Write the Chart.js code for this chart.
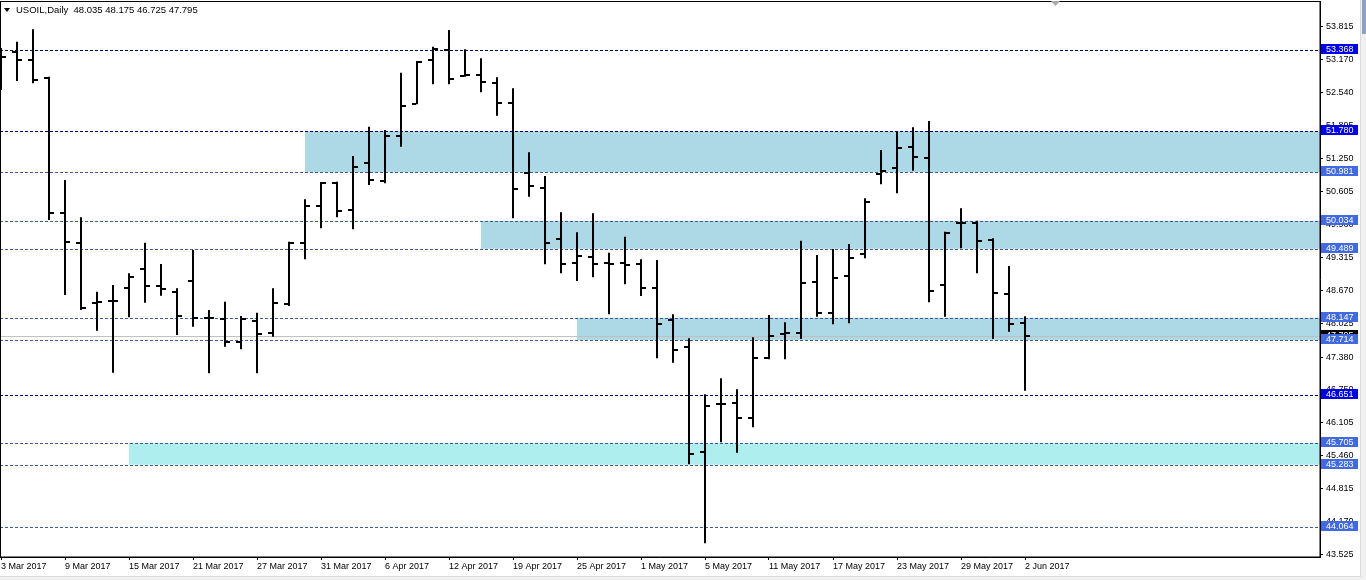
<!DOCTYPE html>
<html><head><meta charset="utf-8">
<script src="https://cdn.jsdelivr.net/npm/chart.js@4.4.0/dist/chart.umd.min.js"></script>
<style>html,body{margin:0;padding:0;background:#fff;overflow:hidden}#wrap{width:1366px;height:580px;position:relative}</style>
</head><body><div id="wrap"><canvas id="c"></canvas></div>
<script>
const symbol = 'USOIL,Daily';
const dates = ['3 Mar 2017','6 Mar 2017','7 Mar 2017','8 Mar 2017','9 Mar 2017','10 Mar 2017','13 Mar 2017','14 Mar 2017','15 Mar 2017','16 Mar 2017','17 Mar 2017','20 Mar 2017','21 Mar 2017','22 Mar 2017','23 Mar 2017','24 Mar 2017','27 Mar 2017','28 Mar 2017','29 Mar 2017','30 Mar 2017','31 Mar 2017',
'3 Apr 2017','4 Apr 2017','5 Apr 2017','6 Apr 2017','7 Apr 2017','10 Apr 2017','11 Apr 2017','12 Apr 2017','13 Apr 2017','17 Apr 2017','18 Apr 2017','19 Apr 2017','20 Apr 2017','21 Apr 2017','24 Apr 2017','25 Apr 2017','26 Apr 2017','27 Apr 2017','28 Apr 2017',
'1 May 2017','2 May 2017','3 May 2017','4 May 2017','5 May 2017','8 May 2017','9 May 2017','10 May 2017','11 May 2017','12 May 2017','15 May 2017','16 May 2017','17 May 2017','18 May 2017','19 May 2017','22 May 2017','23 May 2017','24 May 2017','25 May 2017','26 May 2017','29 May 2017','30 May 2017','31 May 2017','1 Jun 2017','2 Jun 2017'];
const opens  = [53.050,53.316,53.166,52.810,50.180,49.596,48.439,48.472,48.731,49.101,48.764,48.653,48.868,48.147,48.116,47.679,48.088,47.855,48.414,49.596,50.328,50.776,50.245,51.166,50.810,51.686,52.310,53.166,53.361,52.855,52.874,52.713,52.335,50.971,50.679,49.680,49.207,49.335,49.207,49.218,49.187,48.731,48.108,47.582,45.525,46.460,46.491,46.187,47.356,47.824,47.855,48.848,48.244,48.965,49.388,50.946,51.069,51.478,51.263,48.784,49.997,49.985,49.660,48.603,48.035];
const highs  = [53.400,53.523,53.764,52.841,50.829,50.102,48.653,48.784,49.012,49.608,49.193,48.720,49.466,48.297,48.459,48.180,48.244,48.720,49.627,50.453,50.790,50.796,51.296,51.867,51.803,52.919,53.147,53.425,53.751,53.375,53.199,52.829,52.615,51.369,50.907,50.200,49.810,50.180,49.413,49.725,49.284,49.271,48.215,47.746,46.655,46.967,46.752,47.765,48.199,48.057,49.647,49.368,49.485,49.582,50.473,51.413,51.770,51.856,51.978,49.822,50.278,50.036,49.693,49.154,48.175];
const lows   = [52.582,52.757,52.713,50.050,48.589,48.297,47.894,47.076,48.155,48.439,48.575,47.810,47.972,47.064,47.582,47.531,47.064,47.777,48.375,49.284,49.888,50.102,49.869,50.732,50.765,51.478,52.304,52.693,52.693,52.841,52.537,52.081,50.083,50.504,49.187,49.012,48.862,48.934,48.213,48.797,48.570,47.356,47.270,45.291,43.753,45.720,45.517,46.012,47.337,47.337,47.732,48.166,48.018,48.038,49.304,50.745,50.570,51.010,48.447,48.166,49.499,49.012,47.732,47.874,46.725];
const closes = [53.225,53.166,52.777,50.192,49.616,48.342,48.445,48.475,48.945,48.764,48.706,48.186,48.135,48.150,47.679,48.116,47.829,48.439,49.608,50.328,50.770,50.231,51.076,50.823,51.686,52.270,53.122,53.381,52.796,52.868,52.744,52.335,50.648,50.718,49.608,49.193,49.349,49.193,49.200,49.173,48.731,48.030,47.518,45.492,46.427,46.466,46.187,47.356,47.790,47.855,48.817,48.233,48.926,49.316,50.406,51.010,51.458,51.283,48.667,49.791,49.985,49.647,48.634,48.024,47.795];
const yTickValues = [53.815,53.170,52.540,51.895,51.250,50.605,49.960,49.315,48.670,48.025,47.380,46.750,46.105,45.460,44.815,44.170,43.525];
const levelPrices = [53.368,51.780,50.981,50.034,49.489,48.147,47.714,46.651,45.705,45.283,44.064];
const levelStrong = [true,true,false,false,false,false,false,true,false,false,false];
const zoneLow   = [50.981,49.489,47.714,45.283];
const zoneHigh  = [51.780,50.034,48.147,45.705];
const zoneStart = ['30 Mar 2017','17 Apr 2017','25 Apr 2017','15 Mar 2017'];
const zoneColor = ['#ADD8E6','#ADD8E6','#ADD8E6','#AFEEEE'];

const FONT = "'Liberation Sans', Arial, sans-serif";
const N = dates.length;
const idx = dates.map((d,i)=>i);
const xTickIdx = idx.filter(i => i % 4 === 0);
const bid = closes[N-1];

function tickCanvas(side){
  const c = document.createElement('canvas'); c.width = 10; c.height = 2;
  const g = c.getContext('2d'); g.fillStyle = '#000';
  if (side === 'left') g.fillRect(0,0,4,2); else g.fillRect(6,0,4,2);
  return c;
}

const deco = {
  id: 'deco',
  beforeDraw(chart){
    const {ctx} = chart;
    ctx.save(); ctx.fillStyle = '#fff'; ctx.fillRect(0,0,chart.width,chart.height); ctx.restore();
  },
  beforeDatasetsDraw(chart){
    const {ctx, chartArea:a, scales:{x, y}} = chart;
    ctx.save();
    ctx.beginPath(); ctx.rect(a.left, a.top, a.width, a.height); ctx.clip();
    zoneLow.forEach((lo, k) => {
      const x0 = x.getPixelForValue(dates.indexOf(zoneStart[k]));
      const yt = y.getPixelForValue(zoneHigh[k]);
      const yb = y.getPixelForValue(lo);
      ctx.fillStyle = zoneColor[k];
      ctx.fillRect(x0, yt, a.right - x0, yb - yt);
    });
    const by = Math.round(y.getPixelForValue(bid)) + 0.5;
    ctx.strokeStyle = '#C0C0C0'; ctx.lineWidth = 1; ctx.setLineDash([]);
    ctx.beginPath(); ctx.moveTo(a.left, by); ctx.lineTo(a.right, by); ctx.stroke();
    levelPrices.forEach((p, k) => {
      const py = Math.round(y.getPixelForValue(p)) + 0.5;
      ctx.strokeStyle = levelStrong[k] ? '#00007A' : '#3D5A9A';
      ctx.setLineDash([3,2]);
      ctx.beginPath(); ctx.moveTo(a.left, py); ctx.lineTo(a.right, py); ctx.stroke();
    });
    ctx.restore();
  },
  afterDraw(chart){
    const {ctx, chartArea:a, scales:{y}} = chart;
    ctx.save();
    ctx.strokeStyle = '#000'; ctx.lineWidth = 1;
    ctx.strokeRect(a.left + 0.5, a.top + 0.5, a.width - 0.5, a.height - 0.5);
    ctx.font = '9px ' + FONT; ctx.textBaseline = 'middle'; ctx.textAlign = 'left';
    function box(p, bg){
      const py = Math.round(y.getPixelForValue(p));
      ctx.fillStyle = bg; ctx.fillRect(a.right + 1, py - 6, 37, 10);
      ctx.fillStyle = '#fff'; ctx.fillText(p.toFixed(3), a.right + 6, py - 0.5);
    }
    box(bid, '#000');
    levelPrices.forEach((p, k) => box(p, levelStrong[k] ? '#0000EE' : '#4169E1'));
    ctx.fillStyle = '#000';
    ctx.beginPath(); ctx.moveTo(4, 8); ctx.lineTo(10, 8); ctx.lineTo(7, 12); ctx.closePath(); ctx.fill();
    ctx.font = '9.5px ' + FONT; ctx.textBaseline = 'middle';
    const o = opens[N-1], h = highs[N-1], l = lows[N-1], c = closes[N-1];
    ctx.fillText(symbol + '  ' + [o,h,l,c].map(v=>v.toFixed(3)).join(' '), 16, 10);
    ctx.fillStyle = '#A8A8A8';
    ctx.beginPath(); ctx.moveTo(1051, 1); ctx.lineTo(1060, 1); ctx.lineTo(1055.5, 6); ctx.closePath(); ctx.fill();
    ctx.fillStyle = '#F0F0F0'; ctx.fillRect(1361, 0, 5, chart.height);
    ctx.fillStyle = '#8AA2C4'; ctx.fillRect(1362, 0, 4, 34);
    ctx.fillStyle = '#DADADA'; ctx.fillRect(1360, 0, 1, chart.height);
    ctx.fillStyle = '#F0F0F0'; ctx.fillRect(0, 577, chart.width, 3);
    ctx.fillStyle = '#DADADA'; ctx.fillRect(0, 576, 1361, 1);
    ctx.restore();
  }
};

new Chart(document.getElementById('c'), {
  type: 'bar',
  data: {
    datasets: [
      { type: 'bar', data: idx.map(i => ({x: i, y: [lows[i], highs[i]]})), backgroundColor: '#000', borderWidth: 0,
        barThickness: 2, grouped: false, inflateAmount: 0, order: 2 },
      { type: 'line', data: idx.map(i => ({x: i, y: opens[i]})), showLine: false, pointStyle: tickCanvas('left'),
        pointRadius: 3, pointBorderWidth: 0, order: 1 },
      { type: 'line', data: idx.map(i => ({x: i, y: closes[i]})), showLine: false, pointStyle: tickCanvas('right'),
        pointRadius: 3, pointBorderWidth: 0, order: 1 }
    ]
  },
  options: {
    responsive: true, maintainAspectRatio: false, animation: false, events: [],
    layout: { autoPadding: false, padding: { top: 1, left: 0, right: 0, bottom: 0 } },
    plugins: { legend: { display: false }, tooltip: { enabled: false } },
    scales: {
      x: {
        type: 'linear', position: 'bottom', min: -0.0625, max: 82.4375, offset: false,
        afterBuildTicks: s => { s.ticks = xTickIdx.map(v => ({value: v})); },
        afterFit: s => { s.height = 23; s.paddingLeft = 0; s.paddingRight = 0; },
        grid: { offset: false, drawOnChartArea: false, drawTicks: true, tickLength: 3, color: '#000', tickColor: '#000' },
        border: { display: true, color: '#000', width: 1 },
        ticks: { align: 'start', autoSkip: false, maxRotation: 0, minRotation: 0, padding: 1, color: '#000',
          font: { family: FONT, size: 9 }, callback: v => dates[v] ?? '' }
      },
      y: {
        type: 'linear', position: 'right', min: 43.486, max: 54.316,
        afterBuildTicks: s => { s.ticks = yTickValues.map(v => ({value: v})); },
        afterFit: s => { s.width = 46; s.paddingTop = 0; s.paddingBottom = 0; },
        grid: { drawOnChartArea: false, drawTicks: true, tickLength: 3, color: '#000', tickColor: '#000' },
        border: { display: true, color: '#000', width: 1 },
        ticks: { autoSkip: false, padding: 3, color: '#000', font: { family: FONT, size: 9 },
          callback: v => Number(v).toFixed(3) }
      }
    }
  },
  plugins: [deco]
});
</script></body></html>
